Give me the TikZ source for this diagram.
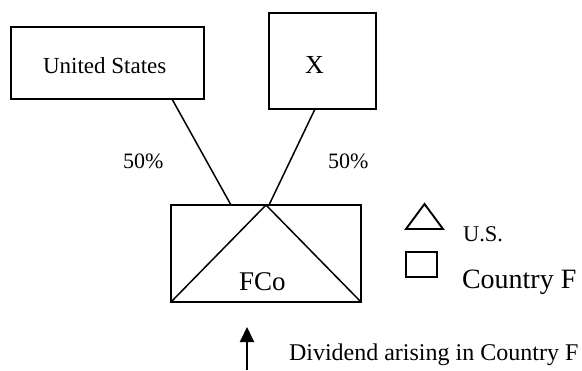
\documentclass[tikz,border=0pt]{standalone}
\usepackage{fontspec}
\setmainfont{Liberation Serif}
\usetikzlibrary{positioning}
\usetikzlibrary{arrows.meta}

\begin{document}
\begin{tikzpicture}[x=0.5pt, y=-0.5pt, line width=0.75pt,
    every node/.style={inner sep=0pt, outer sep=0pt},
    entity/.style={draw, line width=0.95pt},
    lbl/.style={anchor=base west, fill=none, draw=none}]
  \useasboundingbox (0,0) rectangle (582,370);

  % Owners and FCo
  \node[entity, minimum width=96.5pt, minimum height=36pt] (us) at (107.5,63) {};
  \node[entity, minimum width=53.5pt, minimum height=48pt] (x) at (322.5,61) {};
  \node[entity, minimum width=95pt, minimum height=48.5pt] (fco) at (266,253.5) {};

  \node[lbl, font=\fontsize{11.5}{13}\selectfont] at (43,73) {United States};
  \node[lbl, font=\fontsize{13}{15}\selectfont] at (305,73) {X};
  \node[lbl, font=\fontsize{13.5}{15}\selectfont] at (239,290) {FCo};

  % Ownership lines
  \coordinate (usfoot) at (172,99);
  \coordinate (xfoot) at (315,109);
  \coordinate (fcoleft) at (231,205);
  \coordinate (fcoright) at (269,205);
  \draw (usfoot) -- (fcoleft);
  \draw (xfoot) -- (fcoright);
  \node[lbl, font=\fontsize{11}{13}\selectfont] at (123,168) {50\%};
  \node[lbl, font=\fontsize{11}{13}\selectfont] at (328,168) {50\%};

  % U.S. triangle inside FCo
  \draw (fco.south west) -- (fco.north) -- (fco.south east);

  % Legend
  \draw[line width=0.95pt] (406,229) -- (424.5,204) -- (443,229) -- cycle;
  \draw[line width=0.95pt] (406,252) rectangle (437,277);
  \node[lbl, font=\fontsize{11.25}{13}\selectfont] at (463,241) {U.S.};
  \node[lbl, font=\fontsize{14}{16}\selectfont] at (462,288) {Country F};

  % Dividend
  \coordinate (divtail) at (247,370);
  \coordinate (divtip) at (247,327);
  \draw[line width=1pt, -{Triangle[length=7.5pt, width=7pt]}] (divtail) -- (divtip);
  \node[lbl, font=\fontsize{12}{14}\selectfont] at (289,360) {Dividend arising in Country F};
\end{tikzpicture}
\end{document}
